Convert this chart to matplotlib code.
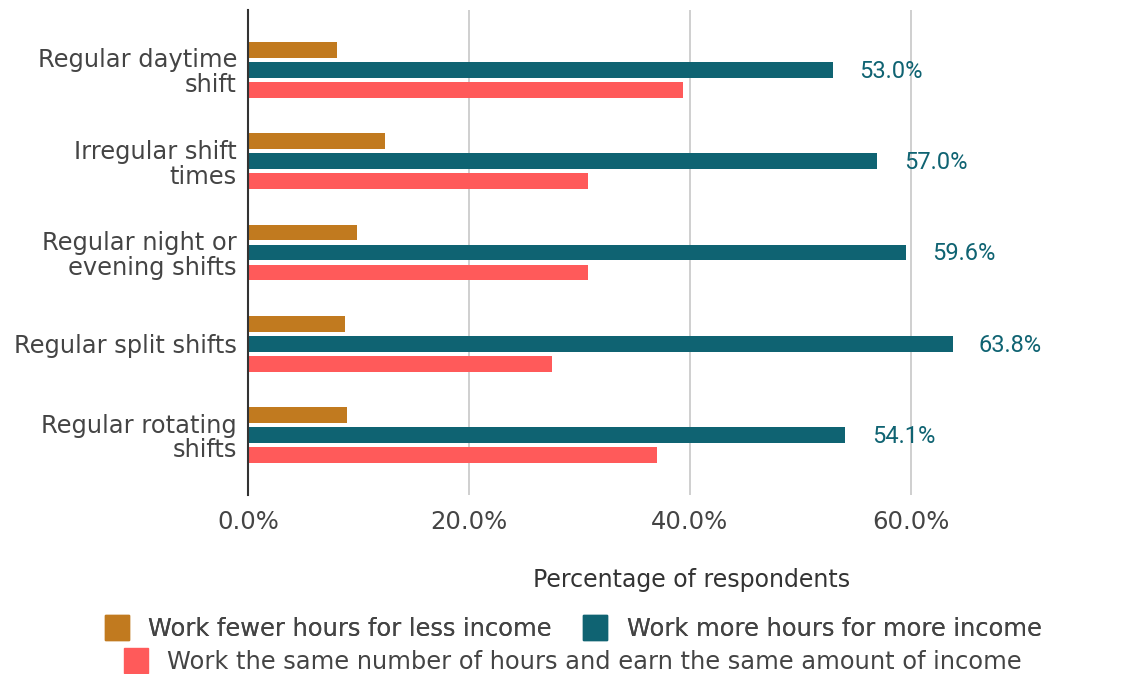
import matplotlib
matplotlib.use("Agg")
import matplotlib.pyplot as plt
from matplotlib.patches import Patch
import numpy as np

categories = ["Regular daytime\nshift", "Irregular shift\ntimes", "Regular night or\nevening shifts",
              "Regular split shifts", "Regular rotating\nshifts"]
series_names = ["Work fewer hours for less income", "Work more hours for more income",
                "Work the same number of hours and earn the same amount of income"]
fewer = [8.1, 12.4, 9.9, 8.8, 9.0]
more = [53.0, 57.0, 59.6, 63.8, 54.1]
same = [39.4, 30.8, 30.8, 27.5, 37.0]
colors = ["#C17A1F", "#0F6372", "#FF5A5A"]
xticks = [0, 20, 40, 60]
xtick_labels = ["0.0%", "20.0%", "40.0%", "60.0%"]

plt.rcParams['font.family'] = ['DejaVu Sans']
fig = plt.figure(figsize=(11.28, 6.74), dpi=100)
W, H = 1128, 674
ax = fig.add_axes([248 / W, 1 - 495 / H, (1021 - 248) / W, (495 - 10) / H])

y = np.arange(len(categories))
off = 0.219
h = 0.175
for vals, dy, c in zip([fewer, more, same], [-off, 0, off], colors):
    ax.barh(y + dy, vals, height=h, color=c, zorder=3)

for yi, v in zip(y, more):
    ax.annotate(f"{v:.1f}%", xy=(v, yi), xytext=(19, -1), textcoords="offset points",
                va="center", ha="left", color=colors[1], fontsize=17, family="Roboto")

ax.set_xlim(0, 70)
ax.set_ylim(len(categories) - 1 + 0.657, -0.657)
ax.set_yticks(y)
ax.set_yticklabels(categories, fontsize=17.4, color="#444444", linespacing=1.05)
ax.set_xticks(xticks)
ax.set_xticklabels(xtick_labels, fontsize=17.5, color="#444444")
ax.tick_params(length=0)
ax.tick_params(axis="x", pad=11)
ax.tick_params(axis="y", pad=8)
ax.grid(axis="x", color="#cccccc", linewidth=1.3, zorder=0)
for s in ["top", "right", "bottom"]:
    ax.spines[s].set_visible(False)
ax.spines["left"].set_color("#333333")
ax.spines["left"].set_linewidth(1.5)
ax.spines["left"].set_zorder(4)
ax.grid(axis="y", visible=False)

ax.set_xlabel("Percentage of respondents", fontsize=17, color="#333333")
ax.xaxis.set_label_coords((692 - 248) / (1021 - 248), 1 - (568 - 10) / (495 - 10))

handles = [Patch(facecolor=c, edgecolor=c) for c in colors]
leg1 = fig.legend(handles[:2], series_names[:2], loc="center", ncol=2,
                  bbox_to_anchor=(573 / W, 1 - 628 / H), frameon=False, fontsize=17.4,
                  handlelength=1.0, handleheight=1.2, columnspacing=1.3, handletextpad=0.8,
                  labelcolor="#444444", borderpad=0, borderaxespad=0)
fig.add_artist(leg1)
leg2 = fig.legend(handles[2:], series_names[2:], loc="center", ncol=1,
                  bbox_to_anchor=(573 / W, 1 - 661 / H), frameon=False, fontsize=17.4,
                  handlelength=1.0, handleheight=1.2, handletextpad=0.8,
                  labelcolor="#444444", borderpad=0, borderaxespad=0)

fig.savefig("out.png", dpi=100)
